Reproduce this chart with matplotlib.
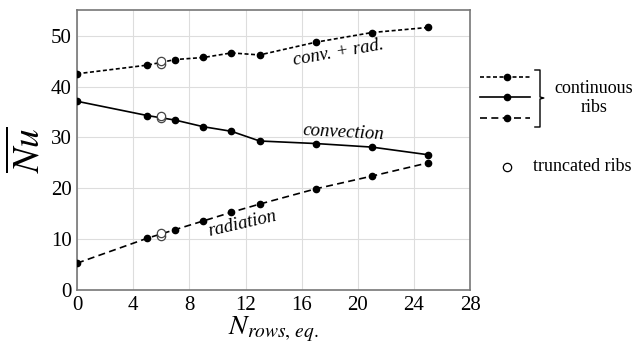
import matplotlib.pyplot as plt
from matplotlib.lines import Line2D

plt.rcParams['font.family'] = ['Liberation Serif', 'DejaVu Serif']
plt.rcParams['mathtext.fontset'] = 'stix'

# mean Nusselt number vs equivalent number of rib rows
n_rows = [0, 5, 7, 9, 11, 13, 17, 21, 25]
nu_total = [42.5, 44.2, 45.3, 45.7, 46.6, 46.2, 48.7, 50.6, 51.6]
nu_conv = [37.1, 34.3, 33.4, 32.1, 31.2, 29.3, 28.8, 28.1, 26.6]
nu_rad = [5.3, 10.2, 11.9, 13.6, 15.3, 16.9, 19.9, 22.4, 25.0]

# truncated-rib cases
n_trunc = [6, 6]
nu_total_trunc = [44.5, 45.0]
nu_conv_trunc = [33.8, 34.2]
nu_rad_trunc = [10.7, 11.2]

fig = plt.figure(figsize=(6.37, 3.5), dpi=100)
ax = fig.add_axes([0.121, 0.171, 0.617, 0.80])

dash_total = (2.4, 1.5)
dash_rad = (4.2, 2.6)

ax.plot(n_rows, nu_total, color='black', lw=1.2, dashes=dash_total,
        marker='o', ms=4.5, zorder=3)
ax.plot(n_rows, nu_conv, color='black', lw=1.2, marker='o', ms=4.5, zorder=3)
ax.plot(n_rows, nu_rad, color='black', lw=1.2, dashes=dash_rad,
        marker='o', ms=4.5, zorder=3)

for yv in (nu_total_trunc, nu_conv_trunc, nu_rad_trunc):
    ax.plot(n_trunc, yv, ls='none', marker='o', ms=6, mfc='white',
            mec='#444444', mew=0.9, zorder=4)

ax.text(18.6, 46.7, 'conv. + rad.', style='italic', fontsize=13.5,
        rotation=10, ha='center', va='center')
ax.text(19.0, 30.9, 'convection', style='italic', fontsize=13.5,
        rotation=-3, ha='center', va='center')
ax.text(11.8, 13.1, 'radiation', style='italic', fontsize=13.5,
        rotation=13, ha='center', va='center')

ax.set_xlim(0, 28)
ax.set_ylim(0, 55)
ax.set_xticks(range(0, 29, 4))
ax.set_yticks(range(0, 51, 10))
ax.tick_params(labelsize=15, length=0, pad=4)
ax.grid(color='#dddddd', lw=0.8)
ax.set_axisbelow(True)
for s in ax.spines.values():
    s.set_color('#777777')
    s.set_linewidth(1.2)

ax.set_xlabel(r'$N_{rows,\,eq.}$', fontsize=20, labelpad=0)
ax.set_ylabel(r'$\overline{Nu}$', fontsize=27, labelpad=2)

# hand-drawn legend on the right
fx0, fx1, fxm = 480 / 637, 530 / 637, 507 / 637
for ypx, dsh in ((77, dash_total), (97, None), (118, dash_rad)):
    fy = 1 - ypx / 350
    kw = dict(dashes=dsh) if dsh else {}
    fig.add_artist(Line2D([fx0, fx1], [fy, fy], color='black', lw=1.2, **kw))
    fig.add_artist(Line2D([fxm], [fy], color='black', marker='o', ms=4.5))

bx = 540 / 637
fig.add_artist(Line2D([bx - 0.008, bx, bx, bx + 0.006, bx, bx, bx - 0.008],
                      [1 - 70 / 350, 1 - 70 / 350, 1 - 97 / 350, 1 - 98 / 350,
                       1 - 99 / 350, 1 - 127 / 350, 1 - 127 / 350],
                      color='black', lw=1.0))
fig.text(594 / 637, 1 - 98 / 350, 'continuous\nribs', fontsize=13,
         ha='center', va='center', linespacing=1.2)

fig.add_artist(Line2D([fxm], [1 - 167 / 350], ls='none', marker='o', ms=6,
                      mfc='white', mec='black', mew=0.9))
fig.text(533 / 637, 1 - 167 / 350, 'truncated ribs', fontsize=13,
         ha='left', va='center')

fig.savefig('out.png', dpi=100)
